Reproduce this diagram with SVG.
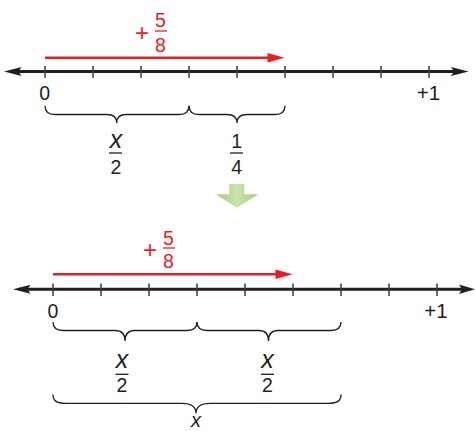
<svg xmlns="http://www.w3.org/2000/svg" width="475" height="431" viewBox="0 0 475 431">
<defs>
<linearGradient id="gr" x1="0" y1="0" x2="1" y2="0">
<stop offset="0" stop-color="#a3cd7c"/>
<stop offset="0.5" stop-color="#cbe4ae"/>
<stop offset="1" stop-color="#a3cd7c"/>
</linearGradient>
</defs>
<style>
.axis{stroke:#231f20;stroke-width:3;fill:none}
.tick{stroke:#3a3a3a;stroke-width:1.5}
.ah{fill:#231f20}
.red{stroke:#ed1c24;stroke-width:2.6;fill:none}
.rh{fill:#ed1c24}
.brace{stroke:#231f20;stroke-width:1.3;fill:none}
.bar{stroke:#231f20;stroke-width:1.3}
.rbar{stroke:#ed1c24;stroke-width:1.3}
text{font-family:"Liberation Sans Narrow","Liberation Sans",Arial,sans-serif;font-size:19.5px;fill:#231f20;text-anchor:middle}
.it{font-family:"Liberation Sans",Arial,sans-serif;font-style:italic;font-size:25px}
.pl{font-family:"Liberation Sans",Arial,sans-serif;font-size:24px}
.rt{fill:#ed1c24}
</style>

<g id="top-line">
<line class="axis" x1="10" y1="71.5" x2="460" y2="71.5"/>
<path class="ah" d="M4,71.5 L21.5,67 L18.5,71.5 L21.5,76 Z"/>
<path class="ah" d="M468.5,71.5 L451,67 L454,71.5 L451,76 Z"/>
<g class="tick">
<line x1="45" y1="66" x2="45" y2="78"/>
<line x1="93" y1="66" x2="93" y2="78"/>
<line x1="141" y1="66" x2="141" y2="78"/>
<line x1="189" y1="66" x2="189" y2="78"/>
<line x1="237" y1="66" x2="237" y2="78"/>
<line x1="285" y1="66" x2="285" y2="78"/>
<line x1="333" y1="66" x2="333" y2="78"/>
<line x1="381" y1="66" x2="381" y2="78"/>
<line x1="429" y1="66" x2="429" y2="78"/>
</g>
<text x="44.7" y="100">0</text>
<text x="428.5" y="100" style="font-size:20.5px">+1</text>
</g>

<g id="top-red">
<line class="red" x1="45" y1="57.7" x2="271" y2="57.7"/>
<path class="rh" d="M284.5,57.7 L267.5,53 L267.5,62.4 Z"/>
<text class="rt pl" x="142" y="40.5">+</text>
<text class="rt" x="160.5" y="27.3">5</text>
<line class="rbar" x1="155" y1="31" x2="167" y2="31"/>
<text class="rt" x="160.5" y="51.7">8</text>
</g>

<g id="top-braces">
<path class="brace" d="M45,105.7 C45,112 48,114.5 55,114.5 L107,114.5 C113,114.5 116.7,117 116.7,123 C116.7,117 120,114.5 126,114.5 L179,114.5 C186,114.5 189,112 189,105.7"/>
<path class="brace" d="M189,105.7 C189,112 192,114.5 199,114.5 L227,114.5 C233,114.5 237,117 237,123 C237,117 241,114.5 247,114.5 L275,114.5 C282,114.5 285,112 285,105.7"/>
</g>

<g id="top-labels">
<text class="it" x="116" y="147.5">x</text>
<line class="bar" x1="109" y1="153" x2="122" y2="153"/>
<text x="116" y="174">2</text>
<text x="236.7" y="148">1</text>
<line class="bar" x1="230" y1="153" x2="243" y2="153"/>
<text x="236.7" y="174">4</text>
</g>

<g id="green-arrow">
<path fill="url(#gr)" d="M229.3,184 L244.3,184 L244.3,194.3 L258.3,194.3 L236.8,207.7 L216,194.3 L229.3,194.3 Z"/>
</g>

<g id="bottom-line">
<line class="axis" x1="19" y1="289.3" x2="467" y2="289.3"/>
<path class="ah" d="M13,289.3 L30.5,284.8 L27.5,289.3 L30.5,293.8 Z"/>
<path class="ah" d="M475,289.3 L459,284.6 L462,289.3 L459,294 Z"/>
<g class="tick">
<line x1="53" y1="283.5" x2="53" y2="296"/>
<line x1="101" y1="283.5" x2="101" y2="296"/>
<line x1="149" y1="283.5" x2="149" y2="296"/>
<line x1="197" y1="283.5" x2="197" y2="296"/>
<line x1="245" y1="283.5" x2="245" y2="296"/>
<line x1="293" y1="283.5" x2="293" y2="296"/>
<line x1="341" y1="283.5" x2="341" y2="296"/>
<line x1="389" y1="283.5" x2="389" y2="296"/>
<line x1="437" y1="283.5" x2="437" y2="296"/>
</g>
<text x="53" y="317.5">0</text>
<text x="436" y="318" style="font-size:20.5px">+1</text>
</g>

<g id="bottom-red">
<line class="red" x1="53" y1="274.3" x2="279" y2="274.3"/>
<path class="rh" d="M292.5,274.3 L275.5,269.6 L275.5,279 Z"/>
<text class="rt pl" x="150" y="257.5">+</text>
<text class="rt" x="168.5" y="244.5">5</text>
<line class="rbar" x1="163" y1="248" x2="175" y2="248"/>
<text class="rt" x="168.5" y="267.5">8</text>
</g>

<g id="bottom-braces">
<path class="brace" d="M53,322 C53,328 56,330.5 63,330.5 L115,330.5 C121,330.5 125,333.5 125,341 C125,333.5 129,330.5 135,330.5 L187,330.5 C194,330.5 197,328 197,322"/>
<path class="brace" d="M197,322 C197,328 200,330.5 207,330.5 L259,330.5 C265,330.5 268.5,333.5 268.5,341 C268.5,333.5 272,330.5 278,330.5 L331,330.5 C338,330.5 341,328 341,322"/>
<path class="brace" d="M53,394.5 C53,400.5 56,403.3 66,403.3 L182,403.3 C190,403.3 196,406 196,413.3 C196,406 202,403.3 210,403.3 L328,403.3 C338,403.3 341,400.5 341,394.5"/>
</g>

<g id="bottom-labels">
<text class="it" x="122" y="368">x</text>
<line class="bar" x1="115.5" y1="374.3" x2="128.5" y2="374.3"/>
<text x="122" y="391.7">2</text>
<text class="it" x="267.5" y="368">x</text>
<line class="bar" x1="261" y1="374.3" x2="274" y2="374.3"/>
<text x="267.5" y="391.7">2</text>
<text class="it" x="196" y="426.5" style="font-size:20px">x</text>
</g>
</svg>
